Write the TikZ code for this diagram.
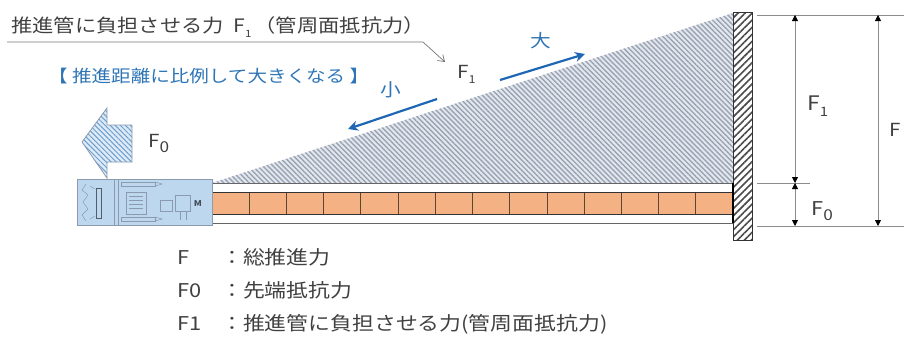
\documentclass[tikz,border=0pt]{standalone}
\usepackage{fontspec}
\setmainfont{Noto Sans CJK JP}[FakeStretch=1.15]
\usetikzlibrary{arrows.meta,patterns.meta}

\definecolor{notebl}{HTML}{2E75B6}
\definecolor{arrowbl}{HTML}{1F66B3}
\definecolor{machbl}{HTML}{BDD7EE}
\definecolor{machln}{HTML}{8A9BB0}
\definecolor{pipeor}{HTML}{F4B183}
\definecolor{hatchgr}{HTML}{9AA3B3}
\definecolor{hatchbg}{HTML}{E4E8EE}
\definecolor{txtgr}{HTML}{404040}

% F with a lowered index, size of the index given
\newcommand\Fidx[2]{F\raisebox{-.3em}{\fontsize{#2}{#2}\selectfont#1}}
\newcommand\fsz[1]{\fontsize{#1}{#1}\selectfont}

\begin{document}
\begin{tikzpicture}[x=1pt, y=-1pt,
    lbl/.style={inner sep=0pt, anchor=base west, text=txtgr},
    dimline/.style={draw=black!45, line width=.8pt},
    dimtip/.style={dimline, {Triangle[width=6pt,length=6pt,color=black]}-{Triangle[width=6pt,length=6pt,color=black]}},
    bluearrow/.style={draw=arrowbl, line width=2.2pt, -{Stealth[length=10pt,width=10pt]}},
    mach/.style={draw=machln, line width=.5pt}]

  \useasboundingbox (0,0) rectangle (904,341);

  % load on the pipes, growing towards the shaft wall
  \fill [hatchbg] (212,183) -- (733,13) -- (733,183) -- cycle;
  \fill [pattern={Lines[angle=-45, distance=3.6pt, line width=1.4pt]}, pattern color=hatchgr]
    (212,183) -- (733,13) -- (733,183) -- cycle;

  % reaction wall
  \fill [white] (733,12) rectangle (752,240);
  \fill [pattern={Lines[angle=45, distance=5pt, line width=1.6pt]}, pattern color=black!70]
    (733,12) rectangle (752,240);
  \draw [black!80, line width=.8pt] (733,12) rectangle (752,240);

  % jacking pipes
  \fill [white] (212,183) rectangle (733,223);
  \draw [black!60, line width=.8pt] (212,183) -- (733,183) (212,223) -- (733,223);
  \fill [pipeor] (212,192) rectangle (733,214);
  \foreach \i in {1,...,13}
    \draw [black!45!pipeor!70!black, line width=.7pt] (212+\i*37.21,192) -- ++(0,22);
  \draw [black!80, line width=.9pt] (212,192) -- (733,192) (212,214) -- (733,214);
  \draw [black, line width=1.6pt] (733,183) -- (733,223);

  % tunnelling machine
  \fill [machbl] (77,179) rectangle (212,225);
  \draw [mach] (77,179) rectangle (212,225);
  \draw [mach] (86,184) -- (82,190) -- (88,195) -- (83,202) -- (88,209) -- (82,215) -- (86,221);
  \draw [mach] (90,186) -- (95,189) (90,219) -- (95,216);
  \draw [draw=machln!60!black, line width=.8pt] (96,188) rectangle (101,218);
  \draw [mach] (114,179) -- (114,225) (118,179) -- (118,225);
  \draw [mach] (121,182) rectangle (155,186) (121,217) rectangle (155,221);
  \draw [mach] (155,182) -- (162,184) -- (155,186) (155,217) -- (162,219) -- (155,221);
  \draw [mach] (126,192) rectangle (146,214);
  \foreach \y in {196,200,204,208}
    \draw [mach] (129,\y) -- (143,\y);
  \draw [mach] (160,200) rectangle (172,211);
  \draw [mach] (175,195) rectangle (190,211);
  \draw [mach] (180,211) -- (180,220) (186,211) -- (186,220);
  \node [inner sep=0pt, text=machln!50!black, font=\fsz{8}\bfseries] (motor) at (198,204) {M};

  % thrust at the cutter face
  \fill [machbl!50] (82,142) -- (107,108) -- (107,125) -- (132,125) -- (132,162) -- (107,162) -- (107,178) -- cycle;
  \fill [pattern={Lines[angle=-45, distance=3.6pt, line width=1pt]}, pattern color=notebl!70]
    (82,142) -- (107,108) -- (107,125) -- (132,125) -- (132,162) -- (107,162) -- (107,178) -- cycle;
  \draw [machln, line width=.8pt]
    (82,142) -- (107,108) -- (107,125) -- (132,125) -- (132,162) -- (107,162) -- (107,178) -- cycle;
  \node [lbl, font=\fsz{18}] (f0face) at (148,147) {\Fidx{0}{15}};

  % heading and leader
  \node [lbl, font=\fsz{18.5}] (title) at (11,32) {推進管に負担させる力\ \ \Fidx{1}{10}\,（管周面抵抗力）};
  \coordinate (leadL) at (7,42);
  \coordinate (leadK) at (423,42);
  \coordinate (leadE) at (445,62);
  \draw [black!55, line width=.7pt, -{Straight Barb[length=6pt,width=8pt]}] (leadL) -- (leadK) -- (leadE);
  \node [lbl, text=notebl, font=\fsz{17}] (note) at (48,82) {【 推進距離に比例して大きくなる 】};
  \node [lbl, font=\fsz{18}] (f1mid) at (457,78) {\Fidx{1}{11}};

  % grows with distance
  \coordinate (bigS) at (500,80);
  \coordinate (bigE) at (585,54);
  \coordinate (smS) at (437,99);
  \coordinate (smE) at (348,129);
  \draw [bluearrow] (bigS) -- (bigE);
  \draw [bluearrow] (smS) -- (smE);
  \node [inner sep=0pt, text=notebl, font=\fsz{18}] (big) at (541,41) {大};
  \node [inner sep=0pt, text=notebl, font=\fsz{18}] (small) at (391,90) {小};

  % dimensions
  \draw [dimline] (757,15) -- (904,15) (757,183) -- (810,183) (757,226) -- (904,226);
  \coordinate (dTop) at (795,15);
  \coordinate (dMid) at (795,183);
  \coordinate (dBot) at (795,226);
  \coordinate (eTop) at (878,15);
  \coordinate (eBot) at (878,226);
  \draw [dimtip] (dTop) -- (dMid);
  \draw [dimtip] (dMid) -- (dBot);
  \draw [dimtip] (eTop) -- (eBot);
  \node [lbl, font=\fsz{20}] (f1dim) at (807,110) {\Fidx{1}{13}};
  \node [lbl, font=\fsz{19}] (f0dim) at (811,215) {\Fidx{0}{15}};
  \node [lbl, font=\fsz{18}] (fdim) at (889,136) {F};

  % legend
  \node [lbl, font=\fsz{19}] (keyF) at (177,264) {F};
  \node [lbl, font=\fsz{19}] (keyF0) at (177,297) {F0};
  \node [lbl, font=\fsz{19}] (keyF1) at (177,330) {F1};
  \node [lbl, font=\fsz{19}] (txtF) at (221,264) {：総推進力};
  \node [lbl, font=\fsz{19}] (txtF0) at (221,297) {：先端抵抗力};
  \node [lbl, font=\fsz{19}] (txtF1) at (221,330) {：推進管に負担させる力(管周面抵抗力)};
\end{tikzpicture}
\end{document}
